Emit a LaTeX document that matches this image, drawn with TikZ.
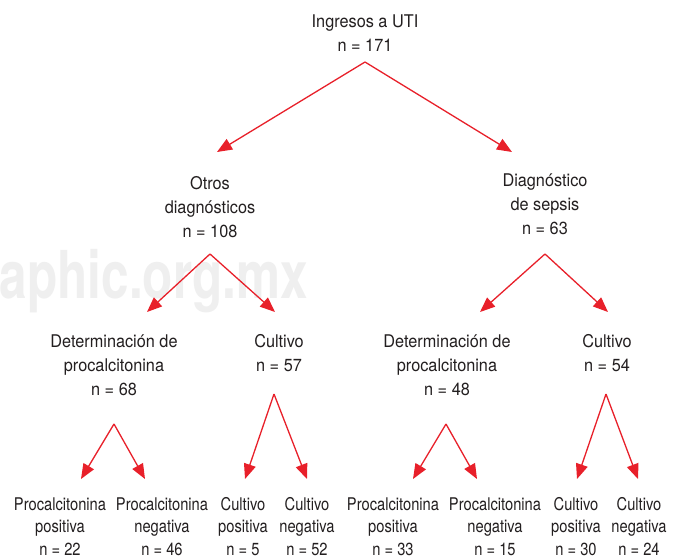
\documentclass[tikz,border=0pt]{standalone}
\usepackage{fontspec}
\setmainfont{TeX Gyre Heros}[FakeStretch=0.93]
\newfontfamily\condfont{TeX Gyre Heros}[FakeStretch=0.84]
\newfontfamily\wmfont{TeX Gyre Heros}[FakeStretch=0.75]
\usetikzlibrary{arrows.meta}
\definecolor{arrred}{HTML}{E8202A}
\definecolor{txtcol}{HTML}{231F20}
\definecolor{wmcol}{HTML}{EFEFEF}
\newcommand\mlines[1]{\begin{tabular}[t]{@{}c@{}}#1\end{tabular}}
\begin{document}
\begin{tikzpicture}[x=1pt,y=-1pt,
  lbl/.style={anchor=base, inner sep=0pt, text=txtcol, font=\fontsize{17.5}{24}\selectfont},
  leaf/.style={anchor=base, inner sep=0pt, text=txtcol, font=\condfont\fontsize{17.5}{22.5}\selectfont},
  arr/.style={draw=arrred, line width=1.3pt, -{Triangle[length=15pt,width=12pt]}}]
\useasboundingbox (0,0) rectangle (678,558);
\fill[white] (0,0) rectangle (678,558);
% watermark
\node[anchor=base east, inner sep=0pt, text=wmcol, font=\wmfont\bfseries\fontsize{66}{66}\selectfont] (wm) at (308,298) {aphic.org.mx};
% nodes
\node[lbl] (root) at (365,27) {\mlines{Ingresos a UTI\\n = 171}};
\node[lbl] (otros) at (210,189) {\mlines{Otros\\diagnósticos\\n = 108}};
\node[lbl] (sepsis) at (545,186) {\mlines{Diagnóstico\\de sepsis\\n = 63}};
\node[lbl] (detA) at (114,347) {\mlines{Determinación de\\procalcitonina\\n = 68}};
\node[lbl] (culA) at (279,347) {\mlines{Cultivo\\n = 57}};
\node[lbl] (detB) at (447,347) {\mlines{Determinación de\\procalcitonina\\n = 48}};
\node[lbl] (culB) at (607,347) {\mlines{Cultivo\\n = 54}};
\node[leaf] (pAp) at (60,510) {\mlines{Procalcitonina\\positiva\\n = 22}};
\node[leaf] (pAn) at (162,510) {\mlines{Procalcitonina\\negativa\\n = 46}};
\node[leaf] (cAp) at (243,510) {\mlines{Cultivo\\positiva\\n = 5}};
\node[leaf] (cAn) at (307,510) {\mlines{Cultivo\\negativa\\n = 52}};
\node[leaf] (pBp) at (393,510) {\mlines{Procalcitonina\\positiva\\n = 33}};
\node[leaf] (pBn) at (495,510) {\mlines{Procalcitonina\\negativa\\n = 15}};
\node[leaf] (cBp) at (576,510) {\mlines{Cultivo\\positiva\\n = 30}};
\node[leaf] (cBn) at (639,510) {\mlines{Cultivo\\negativa\\n = 24}};
% connector end points
\coordinate (rootA) at (365,62);
\coordinate (otrosT) at (217,152);
\coordinate (sepsisT) at (512,152);
\coordinate (otrosA) at (210,254);
\coordinate (detAT) at (147,312);
\coordinate (culAT) at (275,312);
\coordinate (sepsisA) at (545,254);
\coordinate (detBT) at (480,312);
\coordinate (culBT) at (608,312);
\coordinate (detAA) at (114,424);
\coordinate (pApT) at (81,479);
\coordinate (pAnT) at (145,479);
\coordinate (culAA) at (274,394);
\coordinate (cApT) at (245,479);
\coordinate (cAnT) at (307,479);
\coordinate (detBA) at (446,424);
\coordinate (pBpT) at (413,479);
\coordinate (pBnT) at (477,479);
\coordinate (culBA) at (606,394);
\coordinate (cBpT) at (577,479);
\coordinate (cBnT) at (638,479);
% connectors
\draw[arr] (rootA) -- (otrosT);
\draw[arr] (rootA) -- (sepsisT);
\draw[arr] (otrosA) -- (detAT);
\draw[arr] (otrosA) -- (culAT);
\draw[arr] (sepsisA) -- (detBT);
\draw[arr] (sepsisA) -- (culBT);
\draw[arr] (detAA) -- (pApT);
\draw[arr] (detAA) -- (pAnT);
\draw[arr] (culAA) -- (cApT);
\draw[arr] (culAA) -- (cAnT);
\draw[arr] (detBA) -- (pBpT);
\draw[arr] (detBA) -- (pBnT);
\draw[arr] (culBA) -- (cBpT);
\draw[arr] (culBA) -- (cBnT);
\end{tikzpicture}
\end{document}
